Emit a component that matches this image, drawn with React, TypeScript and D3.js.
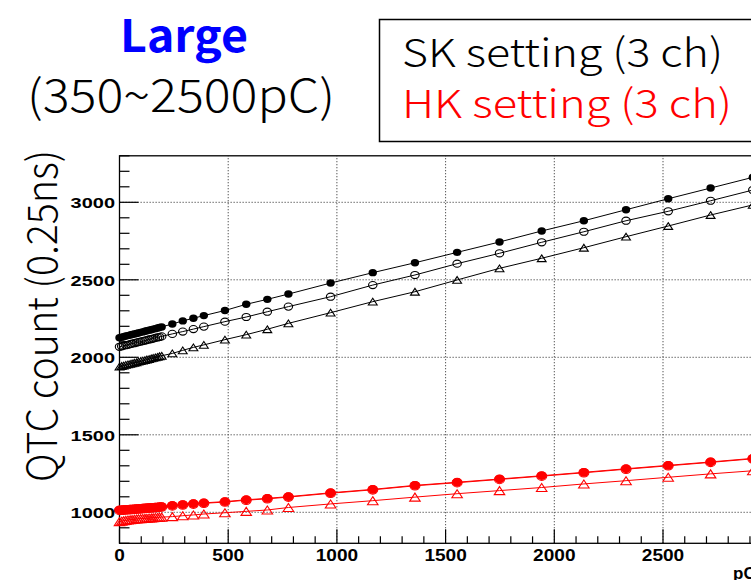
import React from "react";
import * as d3 from "d3";

// Injected charge (pC) of each scan point, shared by all channels
const chargePC = [
  0, 10, 19, 29, 39, 49, 58, 68, 78, 87, 97, 107, 117, 126, 136, 146, 155, 165, 175, 184, 194,
  243, 291, 340, 388, 485, 583, 680, 777, 971, 1165, 1359, 1553, 1748, 1942, 2136, 2330, 2524, 2719, 2913,
];

// SK setting, 3 channels (QTC counts)
const skCh1 = [
  2126, 2130, 2133, 2137, 2140, 2144, 2147, 2150, 2154, 2157, 2161, 2164, 2168, 2171, 2175, 2178, 2182, 2185, 2189, 2192, 2196,
  2215, 2235, 2252, 2269, 2302, 2342, 2374, 2408, 2479, 2546, 2610, 2677, 2744, 2815, 2881, 2952, 3023, 3092, 3161,
];
const skCh2 = [
  2068, 2071, 2075, 2078, 2081, 2085, 2088, 2091, 2095, 2098, 2101, 2105, 2108, 2111, 2115, 2118, 2121, 2125, 2128, 2131, 2135,
  2151, 2166, 2182, 2198, 2230, 2260, 2294, 2327, 2391, 2466, 2531, 2604, 2671, 2742, 2810, 2881, 2942, 3010, 3079,
];
const skCh3 = [
  1940, 1944, 1947, 1951, 1954, 1958, 1961, 1965, 1968, 1972, 1975, 1979, 1982, 1986, 1989, 1993, 1996, 2000, 2003, 2007, 2010,
  2025, 2045, 2064, 2080, 2114, 2146, 2181, 2219, 2288, 2359, 2423, 2499, 2574, 2639, 2707, 2778, 2847, 2918, 2983,
];

// HK setting, 3 channels (QTC counts)
const hkCh1 = [
  1015, 1016, 1017, 1018, 1019, 1020, 1021, 1022, 1023, 1024, 1025, 1027, 1028, 1029, 1030, 1031, 1032, 1033, 1034, 1036, 1037,
  1044, 1050, 1056, 1061, 1069, 1081, 1090, 1101, 1126, 1148, 1174, 1194, 1215, 1236, 1258, 1281, 1303, 1325, 1348,
];
const hkCh2 = [
  1012, 1013, 1014, 1015, 1016, 1017, 1018, 1019, 1020, 1021, 1022, 1024, 1025, 1026, 1027, 1028, 1029, 1030, 1031, 1033, 1034,
  1041, 1047, 1053, 1058, 1066, 1078, 1087, 1098, 1123, 1145, 1171, 1191, 1212, 1233, 1255, 1278, 1300, 1322, 1345,
];
const hkCh3 = [
  940, 943, 946, 948, 950, 952, 954, 955, 957, 958, 959, 960, 961, 962, 963, 964, 965, 966, 967, 968, 969,
  972, 978, 983, 989, 997, 1006, 1015, 1031, 1054, 1075, 1098, 1120, 1140, 1160, 1183, 1204, 1226, 1248, 1268,
];

const xTickValues = [0, 500, 1000, 1500, 2000, 2500];
const yTickValues = [1000, 1500, 2000, 2500, 3000];

type Marker = "filled" | "open" | "triangle";
const seriesList: { values: number[]; color: string; marker: Marker; size: number }[] = [
  { values: hkCh3, color: "#ff0000", marker: "triangle", size: 5 },
  { values: hkCh2, color: "#ff0000", marker: "open", size: 5 },
  { values: hkCh1, color: "#ff0000", marker: "filled", size: 5 },
  { values: skCh3, color: "#000000", marker: "triangle", size: 4.2 },
  { values: skCh2, color: "#000000", marker: "open", size: 4.2 },
  { values: skCh1, color: "#000000", marker: "filled", size: 4.2 },
];

const W = 751;
const H = 580;

export default function App() {
  const x = d3.scaleLinear().domain([0, 3000]).range([119.5, 771.7]);
  const y = d3.scaleLinear().domain([800, 3300]).range([543.3, 155.8]);
  const [x0, x1] = x.range();
  const [y0, y1] = y.range();

  const line = d3
    .line<number>()
    .x((_, i) => x(chargePC[i]))
    .y((v) => y(v));

  const xMinor = d3.range(0, 3001, 100);
  const yMinor = d3.range(800, 3301, 100);

  const tickFont = "'Liberation Sans', Arial, sans-serif";
  const bigFont = "'Noto Sans CJK JP', 'Noto Sans', sans-serif";

  const drawMarker = (s: (typeof seriesList)[number], v: number, i: number) => {
    const cx = x(chargePC[i]);
    const cy = y(v);
    const r = s.size;
    if (s.marker === "filled") {
      return <ellipse key={i} cx={cx} cy={cy} rx={r} ry={r * 0.88} fill={s.color} />;
    }
    if (s.marker === "open") {
      return (
        <ellipse key={i} cx={cx} cy={cy} rx={r} ry={r * 0.85} fill="none" stroke={s.color} strokeWidth={1.1} />
      );
    }
    const hw = r * 1.05;
    const hh = r * 0.8;
    return (
      <path
        key={i}
        d={`M${cx},${cy - hh}L${cx + hw},${cy + hh}L${cx - hw},${cy + hh}Z`}
        fill="none"
        stroke={s.color}
        strokeWidth={1.1}
      />
    );
  };

  return (
    <svg
      width={W}
      height={H}
      style={{ position: "absolute", left: 0, top: 0, background: "#fff" }}
    >
      <rect x={0} y={0} width={W} height={H} fill="#fff" />

      {/* grid */}
      <g stroke="#555" strokeWidth={1} strokeDasharray="1.3,1.7">
        {xTickValues
          .filter((t) => t > 0)
          .map((t) => (
            <line key={`gx${t}`} x1={x(t)} x2={x(t)} y1={y0} y2={y1} />
          ))}
        {yTickValues.map((t) => (
          <line key={`gy${t}`} x1={x0} x2={x1} y1={y(t)} y2={y(t)} />
        ))}
      </g>

      {/* frame */}
      <rect x={x0} y={y1} width={x1 - x0} height={y0 - y1} fill="none" stroke="#000" strokeWidth={1.3} />

      {/* axis ticks */}
      <g stroke="#000" strokeWidth={1.2}>
        {yMinor.map((t) => (
          <line key={`yt${t}`} x1={x0} x2={x0 + (t % 500 === 0 ? 19 : 10)} y1={y(t)} y2={y(t)} />
        ))}
        {xMinor.map((t) => (
          <line key={`xt${t}`} x1={x(t)} x2={x(t)} y1={y0} y2={y0 - (t % 500 === 0 ? 14 : 7)} />
        ))}
      </g>

      {/* series */}
      {seriesList.map((s, si) => (
        <g key={si}>
          <path d={line(s.values) ?? ""} fill="none" stroke={s.color} strokeWidth={1} />
          {s.values.map((v, i) => drawMarker(s, v, i))}
        </g>
      ))}

      {/* y tick labels */}
      <g fontFamily={tickFont} fontWeight="bold" fontSize={15.5} fill="#000">
        {yTickValues.map((t) => {
          const label = String(t);
          return (
            <text
              key={`yl${t}`}
              x={115}
              y={y(t) + 5.8}
              textAnchor="end"
              textLength={label.length * 11.1}
              lengthAdjust="spacingAndGlyphs"
            >
              {label}
            </text>
          );
        })}
      </g>

      {/* x tick labels */}
      <g fontFamily={tickFont} fontWeight="bold" fontSize={17} fill="#000">
        {xTickValues.map((t) => {
          const label = String(t);
          return (
            <text
              key={`xl${t}`}
              x={x(t)}
              y={561}
              textAnchor="middle"
              textLength={label.length * 10.6}
              lengthAdjust="spacingAndGlyphs"
            >
              {label}
            </text>
          );
        })}
      </g>
      <text x={733} y={579} fontFamily={tickFont} fontWeight="bold" fontSize={17} fill="#000">
        pC
      </text>

      {/* y axis title */}
      <text
        transform="translate(57,316) rotate(-90)"
        textAnchor="middle"
        fontFamily={bigFont}
        fontSize={41}
        fontWeight={300}
        fill="#000"
        textLength={332}
        lengthAdjust="spacingAndGlyphs"
      >
        QTC count (0.25ns)
      </text>

      {/* heading */}
      <text
        x={120}
        y={52}
        fontFamily={bigFont}
        fontWeight="bold"
        fontSize={45}
        fill="#0000ff"
        textLength={128}
        lengthAdjust="spacingAndGlyphs"
      >
        Large
      </text>
      <text
        x={27}
        y={112}
        fontFamily={bigFont}
        fontSize={45}
        fontWeight={300}
        fill="#000"
        textLength={308}
        lengthAdjust="spacingAndGlyphs"
      >
        (350~2500pC)
      </text>

      {/* legend */}
      <rect x={379.5} y={19.5} width={400} height={122} fill="#fff" stroke="#000" strokeWidth={1.5} />
      <text
        x={402}
        y={67}
        fontFamily={bigFont}
        fontSize={39}
        fontWeight={300}
        fill="#000"
        textLength={321}
        lengthAdjust="spacingAndGlyphs"
      >
        SK setting (3 ch)
      </text>
      <text
        x={402}
        y={118}
        fontFamily={bigFont}
        fontSize={39}
        fontWeight={300}
        fill="#ff0000"
        textLength={330}
        lengthAdjust="spacingAndGlyphs"
      >
        HK setting (3 ch)
      </text>
    </svg>
  );
}
